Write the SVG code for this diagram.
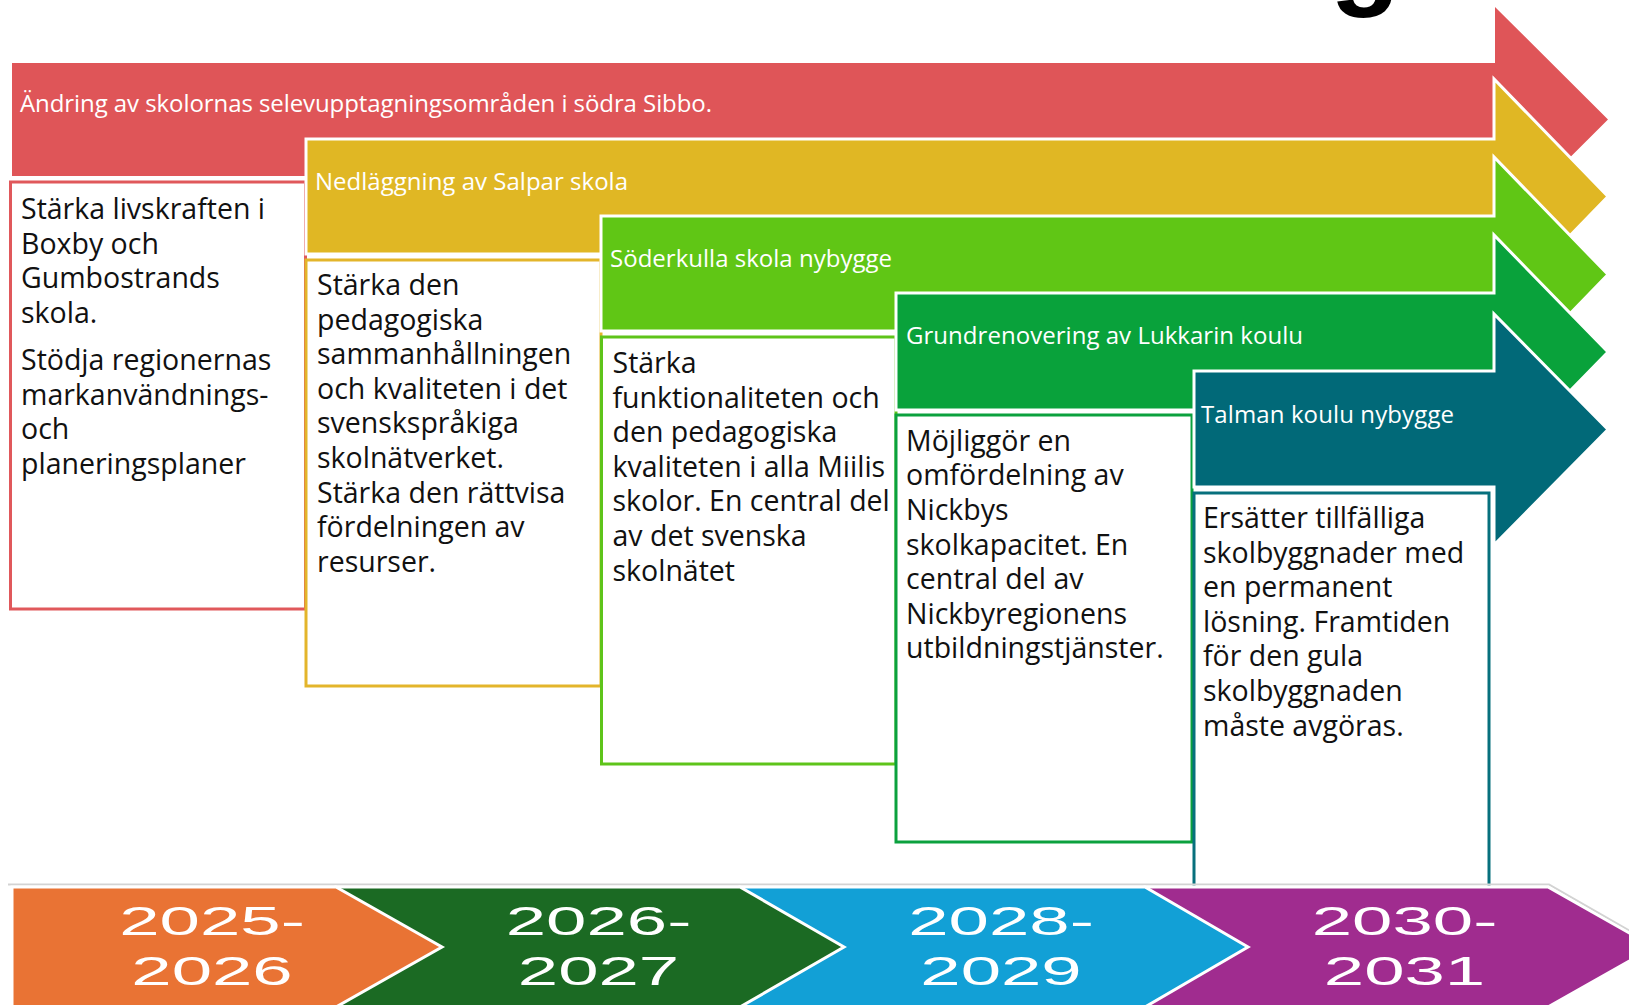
<svg xmlns="http://www.w3.org/2000/svg" width="1629" height="1005" viewBox="0 0 1629 1005">
<style>
.lbl{font-family:"Open Sans","Noto Sans",sans-serif;font-size:24px;fill:#ffffff}
.body{font-family:"Open Sans","Noto Sans",sans-serif;font-size:28.5px;fill:#111111}
.arr{stroke:#ffffff;stroke-width:3;stroke-linejoin:miter}
.box{fill:#ffffff;stroke-width:3}
.yr{font-family:"Liberation Sans",Arial,sans-serif;font-size:41px;fill:#ffffff;text-anchor:middle}
.chev{stroke:#ffffff;stroke-width:3}
</style>
<rect x="0" y="0" width="1629" height="1005" fill="#ffffff"/>
<text id="title-fragment" x="1330" y="-6" font-family="Liberation Sans, Arial, sans-serif" font-weight="bold" font-size="115" fill="#000000">g</text>

<g id="stage-red">
  <polygon fill="#DF5558" points="12,63 1495,63 1495,7 1608,119.5 1495,232 1495,176 12,176"/>
  <text class="lbl" x="20" y="112" textLength="692">Ändring av skolornas selevupptagningsområden i södra Sibbo.</text>
</g>
<g id="box-red">
  <rect class="box" stroke="#E0585B" x="10.5" y="182" width="295" height="427"/>
  <text class="body" x="21" y="219">Stärka livskraften i</text>
  <text class="body" x="21" y="253.6">Boxby och</text>
  <text class="body" x="21" y="288.2">Gumbostrands</text>
  <text class="body" x="21" y="322.8">skola.</text>
  <text class="body" x="21" y="370">Stödja regionernas</text>
  <text class="body" x="21" y="404.6">markanvändnings-</text>
  <text class="body" x="21" y="439.2">och</text>
  <text class="body" x="21" y="473.8">planeringsplaner</text>
</g>

<g id="stage-yellow">
  <polygon class="arr" fill="#E0B724" points="306,139 1494,139 1494,79 1608,196.5 1494,314 1494,254 306,254"/>
  <text class="lbl" x="315" y="190" textLength="313">Nedläggning av Salpar skola</text>
</g>
<g id="box-yellow">
  <rect class="box" stroke="#E3B52B" x="306" y="260" width="295" height="426"/>
  <text class="body" x="317" y="295">Stärka den</text>
  <text class="body" x="317" y="329.6">pedagogiska</text>
  <text class="body" x="317" y="364.2">sammanhållningen</text>
  <text class="body" x="317" y="398.8">och kvaliteten i det</text>
  <text class="body" x="317" y="433.4">svenskspråkiga</text>
  <text class="body" x="317" y="468">skolnätverket.</text>
  <text class="body" x="317" y="502.6">Stärka den rättvisa</text>
  <text class="body" x="317" y="537.2">fördelningen av</text>
  <text class="body" x="317" y="571.8">resurser.</text>
</g>

<g id="stage-lime">
  <polygon class="arr" fill="#60C615" points="601,216 1494,216 1494,157 1608,274.5 1494,392 1494,331 601,331"/>
  <text class="lbl" x="610" y="267" textLength="282">Söderkulla skola nybygge</text>
</g>
<g id="box-lime">
  <rect class="box" stroke="#5EC41A" x="601.5" y="337" width="294.5" height="427"/>
  <text class="body" x="612.5" y="373">Stärka</text>
  <text class="body" x="612.5" y="407.6">funktionaliteten och</text>
  <text class="body" x="612.5" y="442.2">den pedagogiska</text>
  <text class="body" x="612.5" y="476.8">kvaliteten i alla Miilis</text>
  <text class="body" x="612.5" y="511.4">skolor. En central del</text>
  <text class="body" x="612.5" y="546">av det svenska</text>
  <text class="body" x="612.5" y="580.6">skolnätet</text>
</g>

<g id="stage-green">
  <polygon class="arr" fill="#09A23B" points="896,293 1494,293 1494,235 1608,352 1494,469 1494,410 896,410"/>
  <text class="lbl" x="906" y="344" textLength="397">Grundrenovering av Lukkarin koulu</text>
</g>
<g id="box-green">
  <rect class="box" stroke="#0BA13E" x="896" y="415" width="296" height="427"/>
  <text class="body" x="906" y="450.7">Möjliggör en</text>
  <text class="body" x="906" y="485.3">omfördelning av</text>
  <text class="body" x="906" y="519.9">Nickbys</text>
  <text class="body" x="906" y="554.5">skolkapacitet. En</text>
  <text class="body" x="906" y="589.1">central del av</text>
  <text class="body" x="906" y="623.7">Nickbyregionens</text>
  <text class="body" x="906" y="658.3">utbildningstjänster.</text>
</g>

<g id="stage-teal">
  <polygon class="arr" fill="#016978" points="1194,371 1494,371 1494,314 1608,429.5 1494,545 1494,487 1194,487"/>
  <text class="lbl" x="1201" y="423" textLength="253">Talman koulu nybygge</text>
</g>
<g id="box-teal">
  <rect class="box" stroke="#07707D" x="1194" y="493" width="295" height="420"/>
  <text class="body" x="1203" y="528">Ersätter tillfälliga</text>
  <text class="body" x="1203" y="562.6">skolbyggnader med</text>
  <text class="body" x="1203" y="597.2">en permanent</text>
  <text class="body" x="1203" y="631.8">lösning. Framtiden</text>
  <text class="body" x="1203" y="666.4">för den gula</text>
  <text class="body" x="1203" y="701">skolbyggnaden</text>
  <text class="body" x="1203" y="735.6">måste avgöras.</text>
</g>

<g id="timeline">
  <polyline points="8,884.5 1549,884.5 1656,946" fill="none" stroke="#d3d3d3" stroke-width="2"/>
  <g id="year-2030">
    <polygon class="chev" fill="#A02C8F" points="1145,887 1548,887 1654,947 1548,1007 1145,1007"/>
    <text class="yr" transform="translate(1404.5,935) scale(1.77,1)">2030-</text>
    <text class="yr" transform="translate(1404.5,985) scale(1.77,1)">2031</text>
  </g>
  <g id="year-2028">
    <polygon class="chev" fill="#12A0D6" points="740,887 1145,887 1248,947 1145,1007 740,1007"/>
    <text class="yr" transform="translate(1001,935) scale(1.77,1)">2028-</text>
    <text class="yr" transform="translate(1001,985) scale(1.77,1)">2029</text>
  </g>
  <g id="year-2026">
    <polygon class="chev" fill="#1B6A23" points="336,887 740,887 844,947 740,1007 336,1007"/>
    <text class="yr" transform="translate(598.5,935) scale(1.77,1)">2026-</text>
    <text class="yr" transform="translate(598.5,985) scale(1.77,1)">2027</text>
  </g>
  <g id="year-2025">
    <polygon class="chev" fill="#E97334" points="12,887 336,887 442,947 336,1007 12,1007"/>
    <text class="yr" transform="translate(212,935) scale(1.77,1)">2025-</text>
    <text class="yr" transform="translate(212,985) scale(1.77,1)">2026</text>
  </g>
</g>
</svg>
